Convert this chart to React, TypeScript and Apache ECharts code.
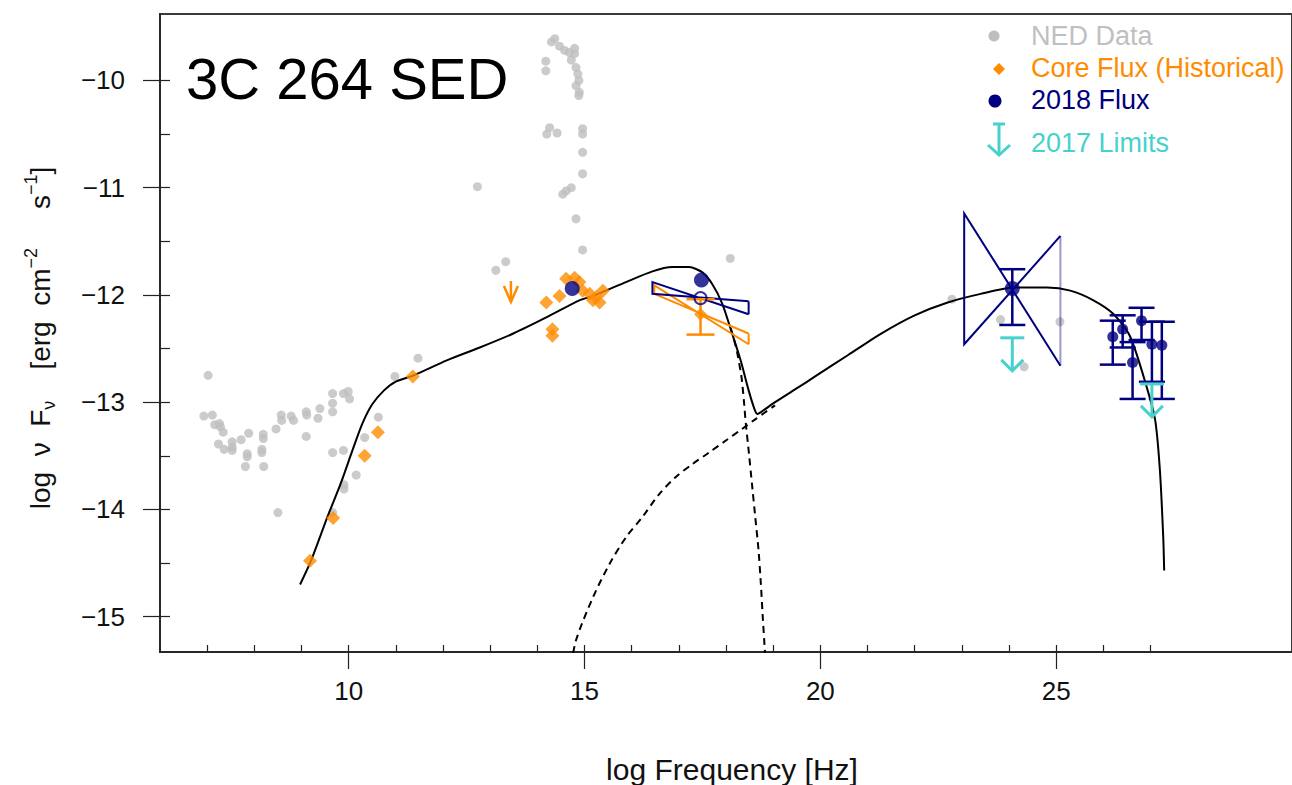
import React, { useEffect, useRef } from "react";
import * as echarts from "echarts";

const FONT = "'Liberation Sans', Arial, Helvetica, sans-serif";
const GRAY = "#bebebe";
const ORANGE = "#ff8c00";
const NAVY = "#000080";
const TURQ = "#48d1cc";

// Axis ticks / labels
const xMajor = [10, 15, 20, 25];
const xMinor = [7, 8, 9, 10, 11, 12, 13, 14, 15, 16, 17, 18, 19, 20, 21, 22, 23, 24, 25, 26, 27];
const yMajor = [-15, -14, -13, -12, -11, -10];
const yMinor = [-15, -14.5, -14, -13.5, -13, -12.5, -12, -11.5, -11, -10.5, -10];

// NED archival data (gray)
const nedData: number[][] = [
  [7.02, -12.75], [6.93, -13.13], [7.11, -13.12], [7.16, -13.21], [7.26, -13.2], [7.28, -13.23],
  [7.34, -13.28], [7.24, -13.39], [7.36, -13.44], [7.53, -13.37], [7.53, -13.42], [7.53, -13.45],
  [7.72, -13.35], [7.88, -13.29], [7.85, -13.48], [7.85, -13.51], [7.81, -13.6], [8.19, -13.3],
  [8.19, -13.34], [8.16, -13.44], [8.16, -13.47], [8.2, -13.6], [8.46, -13.25], [8.57, -13.12],
  [8.58, -13.17], [8.78, -13.13], [8.83, -13.17], [8.5, -14.03], [9.1, -13.09], [9.11, -13.12],
  [9.1, -13.32], [9.35, -13.15], [9.39, -13.06], [9.66, -12.92], [9.66, -13.01], [9.66, -13.09],
  [9.89, -12.92], [9.99, -12.9], [10.02, -12.97], [9.66, -13.47], [9.89, -13.45], [10.16, -13.68],
  [9.9, -13.77], [9.9, -13.81], [9.66, -14.03], [10.34, -13.33], [10.63, -13.14], [10.98, -12.76],
  [11.47, -12.59], [12.73, -10.99], [13.12, -11.77], [13.33, -11.69],
  [14.37, -9.61], [14.3, -9.64], [14.47, -9.68], [14.58, -9.72], [14.68, -9.74], [14.79, -9.7],
  [14.79, -9.75], [14.72, -9.81], [14.82, -9.88], [14.86, -9.94], [14.88, -10.0], [14.82, -10.05],
  [14.89, -10.11], [14.88, -10.14], [14.18, -9.82], [14.18, -9.91], [14.26, -10.44], [14.2, -10.5],
  [14.42, -10.49], [14.96, -10.45], [14.96, -10.5], [14.96, -10.67], [14.96, -10.87], [14.72, -11.0],
  [14.61, -11.03], [14.54, -11.06], [14.82, -11.29], [14.96, -11.58],
  [18.09, -11.66], [22.79, -12.04], [23.82, -12.23], [25.08, -12.25], [24.32, -12.67],
];

// Core flux (historical), orange diamonds
const coreFlux: number[][] = [
  [9.18, -14.48], [9.67, -14.08], [10.34, -13.5], [10.62, -13.28], [11.36, -12.76],
  [14.19, -12.07], [14.47, -12.01], [14.32, -12.32], [14.32, -12.38], [14.61, -11.85],
  [14.79, -11.84], [14.89, -11.88], [14.96, -11.96], [15.11, -11.99], [15.25, -12.02],
  [15.39, -11.96], [15.18, -12.05], [15.32, -12.07],
];
const coreLimit: number[][] = [[13.44, -11.87]];
const coreXrayBar: number[][] = [[17.46, -12.18, -12.37, -12.04]]; // x, y, lo, hi

// 2018 flux (navy)
const flux2018: number[][] = [[14.74, -11.94], [17.48, -11.86], [24.07, -11.94]];
const xrayOpen: number[][] = [[17.46, -12.03]];
const gammaBar: number[][] = [[24.07, -11.94, -12.28, -11.76]];
const tevBars: number[][] = [
  [26.2, -12.39, -12.65, -12.24], [26.41, -12.32, -12.49, -12.19], [26.81, -12.24, -12.42, -12.12],
  [27.03, -12.46, -12.81, -12.25], [27.24, -12.47, -12.97, -12.25], [26.62, -12.63, -12.97, -12.44],
];

// Bow-ties: xLeft, leftHi, leftLo, xRight, rightHi, rightLo
const xrayBowtieNavy: number[][] = [[16.44, -11.88, -11.99, 18.48, -12.06, -12.18]];
const xrayBowtieOrange: number[][] = [[16.48, -11.91, -11.99, 18.48, -12.36, -12.46]];
const gammaBowtie: number[][] = [[23.05, -11.24, -12.46, 25.09, -11.45, -12.66]];

// 2017 upper limits (turquoise)
const limits2017: number[][] = [[24.07, -12.4], [27.03, -12.83]];

// Model curves
const modelTotal: number[][] = [
  [8.97, -14.7], [9.2, -14.48], [9.55, -14.07], [9.83, -13.76], [10.08, -13.45], [10.29, -13.2],
  [10.5, -13.02], [10.75, -12.89], [10.99, -12.81], [11.38, -12.75], [12.08, -12.61], [12.78, -12.49],
  [13.49, -12.36], [14.19, -12.21], [14.89, -12.05], [15.18, -12.01], [15.88, -11.88], [16.44, -11.78],
  [16.86, -11.74], [17.22, -11.74], [17.5, -11.79], [17.71, -11.9], [17.92, -12.08], [18.13, -12.36],
  [18.31, -12.61], [18.48, -12.89], [18.6, -13.06], [18.66, -13.11], [18.75, -13.09], [19.04, -13.0],
  [19.54, -12.86], [19.89, -12.76],
  [20.59, -12.56], [21.29, -12.36], [22.0, -12.19], [22.7, -12.07], [23.4, -11.99], [24.11, -11.93],
  [24.81, -11.93], [25.3, -11.96], [25.79, -12.05], [26.22, -12.18], [26.57, -12.39], [26.92, -12.86],
  [27.1, -13.17], [27.2, -13.64], [27.27, -14.26], [27.29, -14.57],
];
const modelSync: number[][] = [
  [18.1, -12.31], [18.22, -12.5], [18.33, -12.77], [18.38, -12.99], [18.42, -13.2], [18.48, -13.45],
  [18.55, -13.76], [18.62, -14.07], [18.69, -14.38], [18.74, -14.7], [18.78, -15.01], [18.82, -15.29],
  [18.84, -15.45],
];
const modelIC: number[][] = [
  [14.72, -15.45], [14.82, -15.22], [15.18, -14.82], [15.53, -14.51], [15.88, -14.26], [16.23, -14.07],
  [16.58, -13.86], [16.93, -13.7], [17.28, -13.58], [17.64, -13.47], [17.99, -13.36], [18.34, -13.25],
  [18.62, -13.16], [19.04, -13.03],
];

const fmt = (v: number) => (v < 0 ? "\u2212" + Math.abs(v) : String(v));

const errorBarRender = (color: string, capHalf: number, width: number) => (_p: any, api: any) => {
  const x = api.value(0);
  const a = api.coord([x, api.value(3)]);
  const b = api.coord([x, api.value(2)]);
  const st = { stroke: color, lineWidth: width };
  return {
    type: "group",
    children: [
      { type: "line", shape: { x1: a[0], y1: a[1], x2: b[0], y2: b[1] }, style: st },
      { type: "line", shape: { x1: a[0] - capHalf, y1: a[1], x2: a[0] + capHalf, y2: a[1] }, style: st },
      { type: "line", shape: { x1: b[0] - capHalf, y1: b[1], x2: b[0] + capHalf, y2: b[1] }, style: st },
    ],
  };
};

const bowtieRender = (color: string, width: number, rightAlpha: number) => (_p: any, api: any) => {
  const lh = api.coord([api.value(0), api.value(1)]);
  const ll = api.coord([api.value(0), api.value(2)]);
  const rh = api.coord([api.value(3), api.value(4)]);
  const rl = api.coord([api.value(3), api.value(5)]);
  return {
    type: "group",
    children: [
      { type: "polyline", shape: { points: [rh, ll, lh, rl] }, style: { stroke: color, lineWidth: width, fill: "none" } },
      { type: "line", shape: { x1: rl[0], y1: rl[1], x2: rh[0], y2: rh[1] }, style: { stroke: color, lineWidth: width, opacity: rightAlpha } },
    ],
  };
};

const limitRender = (color: string, capHalf: number, len: number, headHalf: number, headH: number, width: number) => (_p: any, api: any) => {
  const p = api.coord([api.value(0), api.value(1)]);
  const tipY = p[1] + len;
  const st = { stroke: color, lineWidth: width, fill: "none" };
  const children: any[] = [
    { type: "line", shape: { x1: p[0], y1: p[1], x2: p[0], y2: tipY }, style: st },
    { type: "polyline", shape: { points: [[p[0] - headHalf, tipY - headH], [p[0], tipY], [p[0] + headHalf, tipY - headH]] }, style: st },
  ];
  if (capHalf > 0) {
    children.push({ type: "line", shape: { x1: p[0] - capHalf, y1: p[1], x2: p[0] + capHalf, y2: p[1] }, style: st });
  }
  return { type: "group", children };
};

export default function App() {
  const ref = useRef<HTMLDivElement>(null);
  useEffect(() => {
    if (!ref.current) return;
    const chart = echarts.init(ref.current, undefined, { renderer: "svg" });
    const axisCol = "#222";
    chart.setOption({
      animation: false,
      backgroundColor: "#fff",
      textStyle: { fontFamily: FONT },
      grid: { left: 160, right: -4, top: 14, bottom: 133, show: true, borderColor: "#3a3a3a", borderWidth: 2, backgroundColor: "transparent" },
      xAxis: [
        {
          type: "value", min: 6, max: 30, position: "bottom",
          axisLine: { show: true, lineStyle: { color: axisCol, width: 1.5 } },
          splitLine: { show: false },
          axisTick: { show: true, customValues: xMajor, length: 17, lineStyle: { color: axisCol, width: 1.2 } },
          axisLabel: { customValues: xMajor, margin: 26, fontSize: 26, color: "#111", fontFamily: FONT },
        },
        {
          type: "value", min: 6, max: 30, position: "bottom",
          axisLine: { show: false }, splitLine: { show: false },
          axisTick: { show: true, inside: true, customValues: xMinor, length: 7, lineStyle: { color: axisCol, width: 1.2 } },
          axisLabel: { show: false },
        },
      ],
      yAxis: [
        {
          type: "value", min: -15.33, max: -9.38, position: "left",
          axisLine: { show: true, lineStyle: { color: axisCol, width: 1.5 } },
          splitLine: { show: false },
          axisTick: { show: true, customValues: yMajor, length: 17, lineStyle: { color: axisCol, width: 1.2 } },
          axisLabel: { customValues: yMajor, margin: 35, fontSize: 26, color: "#111", fontFamily: FONT, formatter: fmt },
        },
        {
          type: "value", min: -15.33, max: -9.38, position: "left",
          axisLine: { show: false }, splitLine: { show: false },
          axisTick: { show: true, inside: true, customValues: yMinor, length: 10, lineStyle: { color: axisCol, width: 1.2 } },
          axisLabel: { show: false },
        },
      ],
      graphic: [
        { type: "text", x: 186, y: 78, style: { text: "3C 264 SED", fontSize: 58, fontFamily: FONT, fill: "#000", verticalAlign: "middle" } },
        { type: "text", x: 732, y: 769, style: { text: "log Frequency [Hz]", fontSize: 30, fontFamily: FONT, fill: "#111", align: "center", verticalAlign: "middle" } },
        {
          type: "text", x: 40, y: 338, rotation: Math.PI / 2,
          style: {
            text: "log  \u03bd  F{sub|\u03bd}    [erg  cm{sup|\u22122}     s{sup|\u22121}]",
            fontSize: 28, fontFamily: FONT, fill: "#111", align: "center", verticalAlign: "middle",
            rich: {
              sub: { fontSize: 18, fontFamily: FONT, fill: "#111", verticalAlign: "bottom", lineHeight: 36 },
              sup: { fontSize: 18, fontFamily: FONT, fill: "#111", verticalAlign: "top", lineHeight: 36 },
            },
          },
        },
        // legend
        { type: "circle", shape: { cx: 994, cy: 36, r: 5.5 }, style: { fill: GRAY } },
        { type: "polygon", shape: { points: [[999, 63], [1005, 69], [999, 75], [993, 69]] }, style: { fill: ORANGE } },
        { type: "circle", shape: { cx: 995, cy: 101, r: 6.5 }, style: { fill: NAVY } },
        { type: "line", shape: { x1: 993, y1: 124, x2: 1005, y2: 124 }, style: { stroke: TURQ, lineWidth: 3 } },
        { type: "line", shape: { x1: 999, y1: 124, x2: 999, y2: 155 }, style: { stroke: TURQ, lineWidth: 3 } },
        { type: "polyline", shape: { points: [[988, 145], [999, 155], [1010, 145]] }, style: { stroke: TURQ, lineWidth: 3, fill: "none" } },
        { type: "text", x: 1031, y: 36, style: { text: "NED Data", fontSize: 27, fontFamily: FONT, fill: "#c0c0c0", verticalAlign: "middle" } },
        { type: "text", x: 1031, y: 68, style: { text: "Core Flux (Historical)", fontSize: 27, fontFamily: FONT, fill: ORANGE, verticalAlign: "middle" } },
        { type: "text", x: 1031, y: 100, style: { text: "2018 Flux", fontSize: 27, fontFamily: FONT, fill: NAVY, verticalAlign: "middle" } },
        { type: "text", x: 1031, y: 143, style: { text: "2017 Limits", fontSize: 27, fontFamily: FONT, fill: TURQ, verticalAlign: "middle" } },
      ],
      series: [
        { name: "NED Data", type: "scatter", data: nedData, symbol: "circle", symbolSize: 9, itemStyle: { color: GRAY }, z: 1 },
        { name: "Model", type: "line", data: modelTotal, showSymbol: false, smooth: 0.25, lineStyle: { color: "#000", width: 2 }, z: 2 },
        { name: "Synchrotron", type: "line", data: modelSync, showSymbol: false, smooth: 0.2, lineStyle: { color: "#000", width: 2, type: [7, 5] }, z: 2 },
        { name: "Inverse Compton", type: "line", data: modelIC, showSymbol: false, smooth: 0.3, lineStyle: { color: "#000", width: 2, type: [7, 5] }, z: 2 },
        { name: "X-ray bowtie (historical)", type: "custom", data: xrayBowtieOrange, renderItem: bowtieRender(ORANGE, 2, 1), encode: { x: [0, 3], y: [1, 2, 4, 5] }, z: 3 },
        { name: "X-ray bowtie 2018", type: "custom", data: xrayBowtieNavy, renderItem: bowtieRender(NAVY, 2, 1), encode: { x: [0, 3], y: [1, 2, 4, 5] }, z: 3 },
        { name: "Gamma bowtie", type: "custom", data: gammaBowtie, renderItem: bowtieRender(NAVY, 2, 0.4), encode: { x: [0, 3], y: [1, 2, 4, 5] }, z: 3 },
        { name: "Core Flux (Historical)", type: "scatter", data: coreFlux, symbol: "diamond", symbolSize: 14, itemStyle: { color: ORANGE }, z: 4 },
        { name: "Core limit", type: "custom", data: coreLimit, renderItem: limitRender(ORANGE, 0, 21, 7, 16, 2.5), encode: { x: 0, y: 1 }, z: 4 },
        { name: "Core X-ray error", type: "custom", data: coreXrayBar, renderItem: errorBarRender(ORANGE, 14, 2.5), encode: { x: 0, y: [1, 2, 3] }, z: 4 },
        { name: "Core X-ray", type: "scatter", data: coreXrayBar.map((d) => [d[0], d[1]]), symbol: "diamond", symbolSize: 13, itemStyle: { color: ORANGE }, z: 4 },
        { name: "2018 errors", type: "custom", data: gammaBar.concat(tevBars), renderItem: errorBarRender(NAVY, 13, 2.5), encode: { x: 0, y: [1, 2, 3] }, z: 5 },
        { name: "2018 Flux", type: "scatter", data: flux2018, symbol: "circle", symbolSize: 15, itemStyle: { color: NAVY }, z: 6 },
        { name: "2018 TeV", type: "scatter", data: tevBars.map((d) => [d[0], d[1]]), symbol: "circle", symbolSize: 11, itemStyle: { color: NAVY }, z: 6 },
        { name: "2018 X-ray (open)", type: "scatter", data: xrayOpen, symbol: "circle", symbolSize: 12, itemStyle: { color: "rgba(255,255,255,0)", borderColor: NAVY, borderWidth: 2 }, z: 6 },
        { name: "2017 Limits", type: "custom", data: limits2017, renderItem: limitRender(TURQ, 12, 33, 11, 11, 3), encode: { x: 0, y: 1 }, z: 7 },
      ],
    });
    return () => chart.dispose();
  }, []);
  return <div ref={ref} style={{ position: "fixed", left: 0, top: 0, width: 1292, height: 785 }} />;
}
